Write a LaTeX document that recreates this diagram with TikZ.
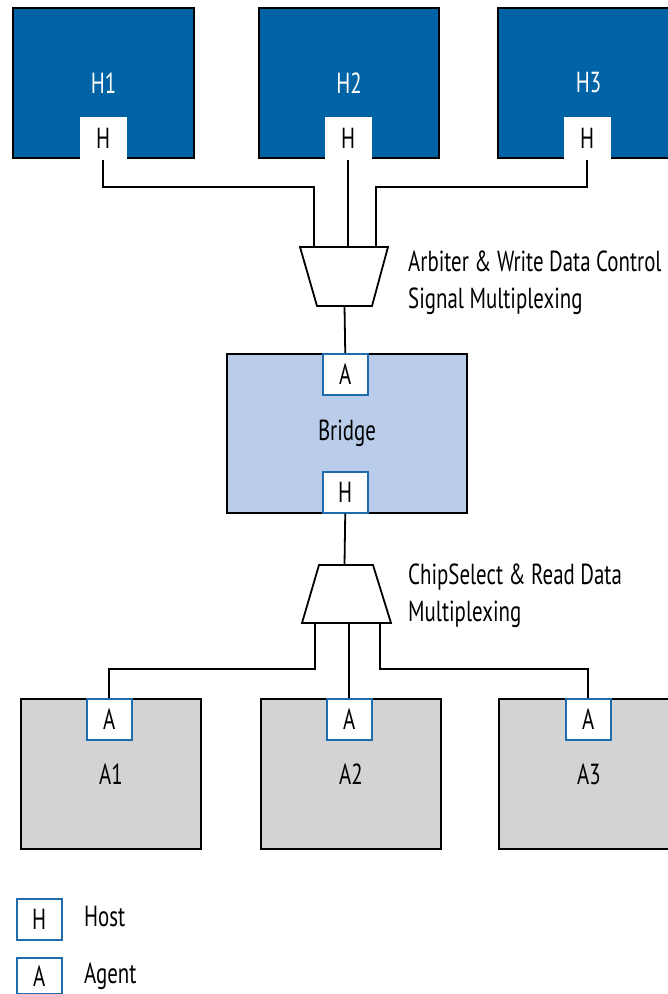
\documentclass[tikz,border=0pt]{standalone}
\usepackage{fontspec}
\setmainfont{PT Sans}[FakeStretch=0.72]
\definecolor{hostblue}{RGB}{0,99,165}
\definecolor{bridgeblue}{RGB}{185,205,234}
\definecolor{agentgray}{RGB}{209,211,212}
\definecolor{portblue}{RGB}{30,108,174}
\begin{document}
\begin{tikzpicture}[x=1pt,y=-1pt,
  font=\fontsize{29}{37}\selectfont,
  box/.style={draw=black, line width=2pt, anchor=north west, inner sep=0pt},
  hostbox/.style={box, fill=hostblue, text=white, minimum width=181pt, minimum height=150pt},
  agentbox/.style={box, fill=agentgray, minimum width=180pt, minimum height=150pt},
  bridgebox/.style={box, fill=bridgeblue, minimum width=240pt, minimum height=159pt},
  port/.style={draw=portblue, fill=white, line width=1.5pt, anchor=north west, inner sep=0pt, minimum width=45pt, minimum height=41pt},
  wire/.style={draw=black, line width=1.8pt},
  mux/.style={draw=black, line width=1.8pt, fill=white, line join=miter},
  lbl/.style={anchor=west, align=left, inner sep=0pt}]
\useasboundingbox (0,0) rectangle (668,994);

% host boxes
\node[hostbox] (H1) at (12,7) {H1};
\node[hostbox, minimum width=180pt] (H2) at (258,7) {H2};
\node[hostbox] (H3) at (497,7) {H3};
\node[port, draw=white] (pH1) at (80,117) {H};
\node[port, draw=white] (pH2) at (325,117) {H};
\node[port, draw=white] (pH3) at (564,117) {H};

% bridge
\node[bridgebox] (B) at (226,353) {Bridge};
\node[port] (pBA) at (322,353) {A};
\node[port] (pBH) at (322,471) {H};

% agent boxes
\node[agentbox] (A1) at (20,698) {A1};
\node[agentbox] (A2) at (260,698) {A2};
\node[agentbox] (A3) at (498,698) {A3};
\node[port] (pA1) at (86,698) {A};
\node[port] (pA2) at (326,698) {A};
\node[port] (pA3) at (565,698) {A};

% multiplexers
\coordinate (m1tl) at (300,247); \coordinate (m1tr) at (388,247);
\coordinate (m1br) at (372,306); \coordinate (m1bl) at (317,306);
\coordinate (m1in1) at (314,247); \coordinate (m1in3) at (376,247);
\coordinate (m1out) at (344.5,306);
\draw[mux] (m1tl) -- (m1tr) -- (m1br) -- (m1bl) -- cycle;

\coordinate (m2tl) at (319,565); \coordinate (m2tr) at (373,565);
\coordinate (m2br) at (391,623); \coordinate (m2bl) at (302,623);
\coordinate (m2in) at (344.5,565);
\coordinate (m2out1) at (315,623); \coordinate (m2out3) at (380,623);
\draw[mux] (m2tl) -- (m2tr) -- (m2br) -- (m2bl) -- cycle;

% wires
\draw[wire] (pH1.south) |- (250,187) -| (m1in1);
\draw[wire] (pH2.south) -- (pH2.south |- m1tl);
\draw[wire] (pH3.south) |- (400,187) -| (m1in3);
\draw[wire] (m1out) -- (pBA.north);
\draw[wire] (pBH.south) -- (m2in);
\draw[wire] (m2out1) |- (200,669) -| (pA1.north);
\draw[wire] (pA2.north |- m2bl) -- (pA2.north);
\draw[wire] (m2out3) |- (500,669) -| (pA3.north);

% labels
\node[lbl] (l1) at (408,283) {Arbiter \& Write Data Control\\Signal Multiplexing};
\node[lbl] (l2) at (408,596) {ChipSelect \& Read Data\\Multiplexing};

% legend
\node[port] (kH) at (16,898) {H};
\node[port, minimum height=36pt] (kA) at (16,957) {A};
\node[lbl] (kHt) at (84,917) {Host};
\node[lbl] (kAt) at (84,976) {Agent};
\end{tikzpicture}
\end{document}
